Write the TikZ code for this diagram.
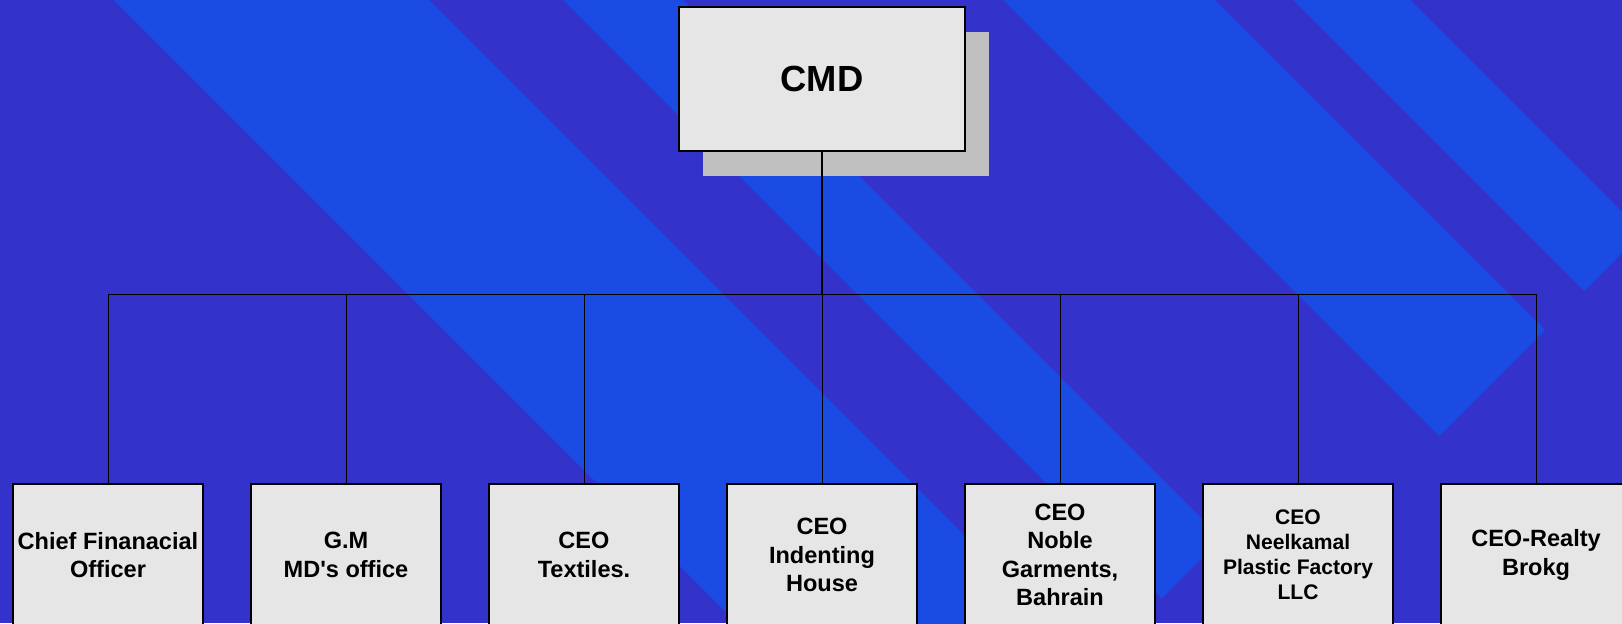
\documentclass[tikz,border=0pt]{standalone}
\usepackage{fontspec}
\setmainfont{Liberation Sans}
\usetikzlibrary{shadows}
\definecolor{bgpurple}{RGB}{51,51,204}
\definecolor{stripeblue}{RGB}{26,75,227}
\definecolor{boxgray}{RGB}{230,230,230}
\definecolor{shadowgray}{RGB}{192,192,192}
\begin{document}
\begin{tikzpicture}[x=0.02cm,y=-0.02cm,
  post/.style={draw=black,line width=1.1pt,fill=boxgray,minimum width=3.8cm,minimum height=2.84cm,inner sep=0pt,align=center,font=\bfseries\fontsize{13.4}{16.1}\selectfont},
  head/.style={post,minimum width=5.72cm,minimum height=2.88cm,font=\bfseries\fontsize{20.7}{24.8}\selectfont,
    drop shadow={shadow xshift=0.48cm,shadow yshift=-0.5cm,fill=shadowgray,opacity=1}},
  link/.style={line width=0.55pt}]
\useasboundingbox (0,0) rectangle (1622,623);
\clip (0,0) rectangle (1622,623);
% background and stripes
\fill[bgpurple] (0,0) rectangle (1622,623);
\fill[stripeblue] (114,0) -- (429,0) -- (1129,700) -- (814,700) -- cycle;
\fill[stripeblue] (563,0) -- (683,0) -- (1221.5,538.5) -- (1161.5,598.5) -- cycle;
\fill[stripeblue] (1003,0) -- (1215,0) -- (1545,330) -- (1439,436) -- cycle;
\fill[stripeblue] (1293,0) -- (1410,0) -- (1642.5,232.5) -- (1584,291) -- cycle;
% boxes
\node[head] (cmd) at (822,79) {CMD};
\node[post] (cfo) at (108,555) {Chief Finanacial\\Officer};
\node[post] (gm) at (346,555) {G.M\\MD\textquotesingle s office};
\node[post] (textiles) at (584,555) {CEO\\Textiles.};
\node[post] (indenting) at (822,555) {CEO\\Indenting\\House};
\node[post] (noble) at (1060,555) {CEO\\Noble\\Garments,\\Bahrain};
\node[post,font=\bfseries\fontsize{12}{14.2}\selectfont] (neelkamal) at (1298,555) {CEO\\Neelkamal\\Plastic Factory\\LLC};
\node[post] (realty) at (1536,555) {CEO-Realty\\Brokg};
% connectors
\coordinate (bus) at (822,294);
\draw[line width=0.85pt] (cmd.south) -- (bus);
\draw[link] (cfo.north |- bus) -- (realty.north |- bus);
\foreach \n in {cfo,gm,textiles,indenting,noble,neelkamal,realty}
  \draw[link] (\n.north |- bus) -- (\n.north);
\end{tikzpicture}
\end{document}
